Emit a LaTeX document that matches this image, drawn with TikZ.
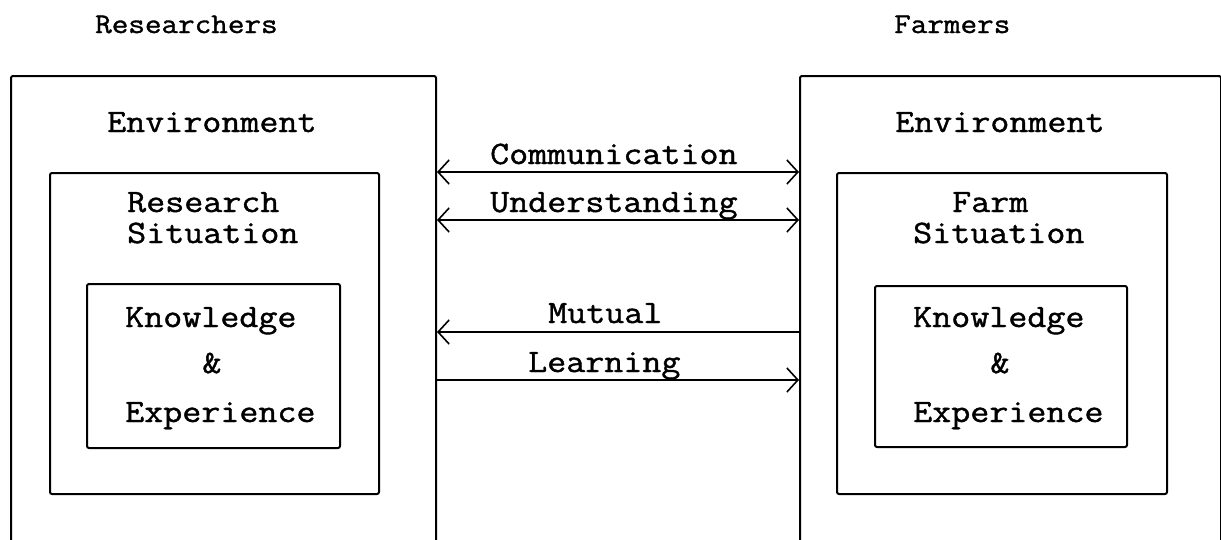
\documentclass[tikz,border=0pt]{standalone}
\usepackage{fontspec}
\newfontfamily\typew{Latin Modern Mono}[FakeStretch=1.13,FakeBold=1.2]
\usetikzlibrary{arrows.meta}
\tikzset{barb/.tip={Straight Barb[length=11pt,width=24pt,line width=1.6pt]}}
\begin{document}
\begin{tikzpicture}[x=1pt,y=-1pt,
  box/.style={draw, line width=2pt, rounded corners=2pt, inner sep=0pt, anchor=north west},
  txt/.style={inner sep=0pt, anchor=base west, font=\typew\fontsize{32.7}{32.7}\selectfont},
  toplab/.style={inner sep=0pt, anchor=base west, font=\typew\fontsize{28.5}{28.5}\selectfont},
  link/.style={line width=1.6pt}]
\useasboundingbox (0,0) rectangle (1221,539);
% outer boxes (open at the bottom, cut by the page)
\node[box, minimum width=425pt, minimum height=520pt] (Lenv) at (10,75) {};
\node[box, minimum width=421pt, minimum height=520pt] (Renv) at (799,75) {};
% middle boxes
\node[box, minimum width=329pt, minimum height=321pt] (Lsit) at (49,172) {};
\node[box, minimum width=330pt, minimum height=321pt] (Rsit) at (836,172) {};
% inner boxes
\node[box, minimum width=253pt, minimum height=164pt] (Lkno) at (86,283) {};
\node[box, minimum width=252pt, minimum height=161pt] (Rkno) at (874,285) {};
% top labels
\node[toplab] (res) at (95,33) {Researchers};
\node[toplab] (farm) at (894,33) {Farmers};
% left texts
\node[txt] (Lenvt) at (107,132) {Environment};
\node[txt] (Lsit1) at (127,212) {Research};
\node[txt] (Lsit2) at (127,243) {Situation};
\node[txt] (Lk1) at (125,327) {Knowledge};
\node[txt, anchor=base] (Lk2) at (212,373) {\&};
\node[txt] (Lk3) at (125,422) {Experience};
% right texts
\node[txt] (Renvt) at (895,132) {Environment};
\node[txt] (Rsit1) at (952,212) {Farm};
\node[txt] (Rsit2) at (913,243) {Situation};
\node[txt] (Rk1) at (913,327) {Knowledge};
\node[txt, anchor=base] (Rk2) at (1000,373) {\&};
\node[txt] (Rk3) at (913,422) {Experience};
% connectors
\coordinate (y1) at (0,172);
\coordinate (y2) at (0,220);
\coordinate (y3) at (0,332);
\coordinate (y4) at (0,380);
\draw[link, barb-barb] (Lenv.east |- y1) -- (Renv.west |- y1);
\draw[link, barb-barb] (Lenv.east |- y2) -- (Renv.west |- y2);
\draw[link, barb-] (Lenv.east |- y3) -- (Renv.west |- y3);
\draw[link, -barb] (Lenv.east |- y4) -- (Renv.west |- y4);
% connector labels
\node[txt] (comm) at (490,164) {Communication};
\node[txt] (und) at (490,212) {Understanding};
\node[txt] (mut) at (548,323) {Mutual};
\node[txt] (lea) at (528,372) {Learning};
\end{tikzpicture}
\end{document}
